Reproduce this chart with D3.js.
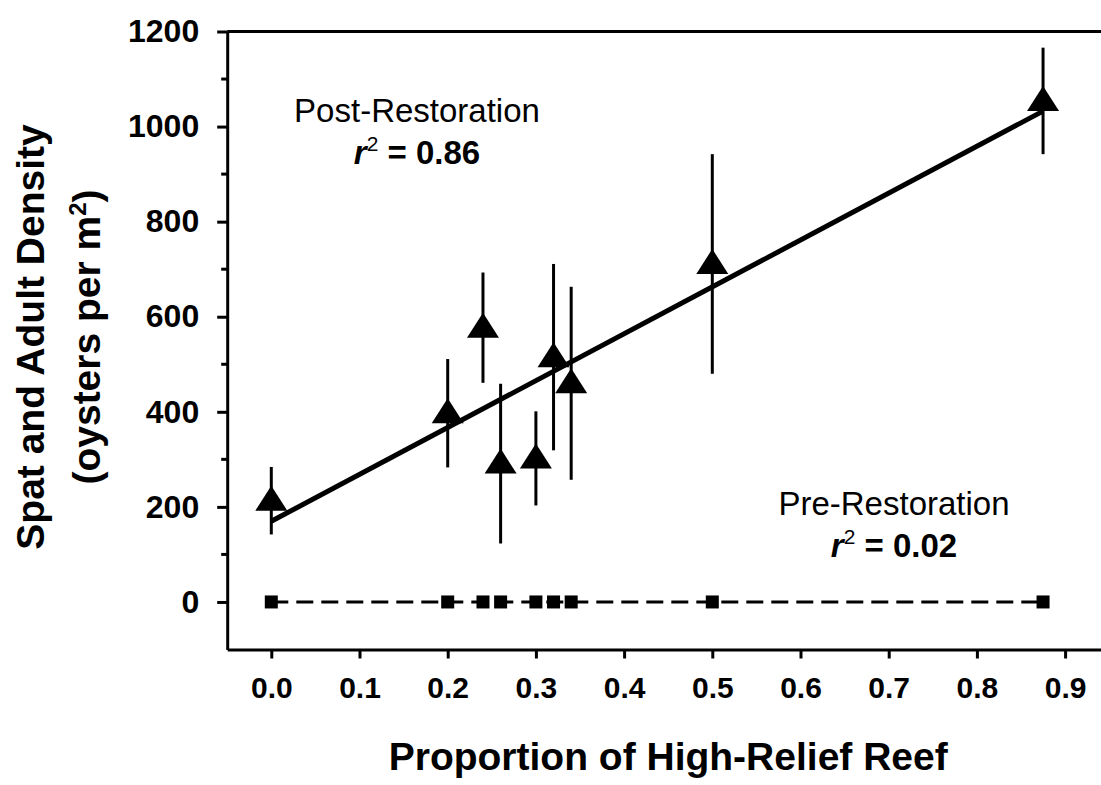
<!DOCTYPE html>
<html>
<head>
<meta charset="utf-8">
<script src="https://cdn.jsdelivr.net/npm/d3@7"></script>
<style>
  body { margin: 0; background: #fff; }
  svg { display: block; font-family: "Liberation Sans", Arial, sans-serif; }
</style>
</head>
<body>
<svg width="1101" height="785"></svg>
<script>
// proportion of high-relief reef for each site
const proportion = [0, 0.2, 0.24, 0.26, 0.30, 0.32, 0.34, 0.5, 0.875];
// post-restoration density (mean and error bar half-length)
const postMean = [213, 397, 577, 291, 302, 515, 460, 711, 1054];
const postErr = [71, 114, 116, 168, 99, 196, 203, 231, 112];
// pre-restoration density
const preMean = [0, 0, 0, 0, 0, 0, 0, 0, 0];

const xTicks = [0, 0.1, 0.2, 0.3, 0.4, 0.5, 0.6, 0.7, 0.8, 0.9];
const yTicks = [0, 200, 400, 600, 800, 1000, 1200];
const yMinor = [100, 300, 500, 700, 900, 1100];

const svg = d3.select("svg"),
  width = +svg.attr("width"),
  height = +svg.attr("height");

const x = d3.scaleLinear().domain([-0.05, 0.95]).range([227.2, 1109.2]);
const y = d3.scaleLinear().domain([-100, 1200]).range([649.5, 31.5]);

const post = proportion.map((p, i) => ({ x: p, y: postMean[i], e: postErr[i] }));
const pre = proportion.map((p, i) => ({ x: p, y: preMean[i] }));

// least squares fit
function fit(data) {
  const mx = d3.mean(data, d => d.x), my = d3.mean(data, d => d.y);
  const sxy = d3.sum(data, d => (d.x - mx) * (d.y - my));
  const sxx = d3.sum(data, d => (d.x - mx) ** 2);
  const b = sxx ? sxy / sxx : 0;
  return v => my + b * (v - mx);
}
const postFit = fit(post), preFit = fit(pre);
const xExt = d3.extent(proportion);

// axes
const yAxis = svg.append("g")
  .attr("transform", `translate(${x(-0.05)},0)`)
  .call(d3.axisLeft(y).tickValues(yTicks).tickFormat(d3.format("d"))
    .tickSize(10).tickSizeOuter(0).tickPadding(18));
yAxis.select(".domain").attr("stroke-width", 3);
yAxis.selectAll(".tick line").attr("stroke-width", 3);
yAxis.selectAll("text")
  .attr("font-size", 32).attr("font-weight", "bold").attr("fill", "#000")
  .attr("font-family", "Liberation Sans, Arial, sans-serif");

svg.append("g")
  .selectAll("line")
  .data(yMinor)
  .join("line")
  .attr("x1", x(-0.05) - 6).attr("x2", x(-0.05))
  .attr("y1", d => y(d)).attr("y2", d => y(d))
  .attr("stroke", "#000").attr("stroke-width", 3);

const xAxis = svg.append("g")
  .attr("transform", `translate(0,${y(-100)})`)
  .call(d3.axisBottom(x).tickValues(xTicks).tickFormat(d3.format(".1f"))
    .tickSize(9).tickSizeOuter(0).tickPadding(18));
xAxis.select(".domain").attr("stroke-width", 3);
xAxis.selectAll(".tick line").attr("stroke-width", 3);
xAxis.selectAll("text")
  .attr("font-size", 30).attr("font-weight", "bold").attr("fill", "#000")
  .attr("font-family", "Liberation Sans, Arial, sans-serif");

// top frame line
svg.append("line")
  .attr("x1", x(-0.05)).attr("x2", x(0.95))
  .attr("y1", y(1200)).attr("y2", y(1200))
  .attr("stroke", "#000").attr("stroke-width", 3);

// axis titles
svg.append("text")
  .attr("x", x(0.45)).attr("y", 770)
  .attr("text-anchor", "middle")
  .attr("font-size", 39).attr("font-weight", "bold")
  .text("Proportion of High-Relief Reef");

const yTitle = svg.append("text")
  .attr("transform", "translate(0,337) rotate(-90)")
  .attr("text-anchor", "middle")
  .attr("font-size", 39).attr("font-weight", "bold");
yTitle.append("tspan").attr("x", 0).attr("y", 44).text("Spat and Adult Density");
const l2 = yTitle.append("tspan").attr("x", 0).attr("y", 100);
l2.append("tspan").text("(oysters per m");
l2.append("tspan").attr("dy", -14).attr("font-size", 24).text("2");
l2.append("tspan").attr("dy", 14).text(")");

// pre-restoration dashed fit line and squares
svg.append("line")
  .attr("x1", x(xExt[0])).attr("x2", x(xExt[1]))
  .attr("y1", y(preFit(xExt[0]))).attr("y2", y(preFit(xExt[1])))
  .attr("stroke", "#000").attr("stroke-width", 3)
  .attr("stroke-dasharray", "17,8");

svg.append("g")
  .selectAll("rect")
  .data(pre)
  .join("rect")
  .attr("x", d => x(d.x) - 6.5).attr("y", d => y(d.y) - 6.5)
  .attr("width", 13).attr("height", 13)
  .attr("fill", "#000");

// post-restoration error bars
svg.append("g")
  .selectAll("line")
  .data(post)
  .join("line")
  .attr("x1", d => x(d.x)).attr("x2", d => x(d.x))
  .attr("y1", d => y(d.y - d.e)).attr("y2", d => y(d.y + d.e))
  .attr("stroke", "#000").attr("stroke-width", 3);

// post-restoration fit
svg.append("line")
  .attr("x1", x(xExt[0])).attr("x2", x(xExt[1]))
  .attr("y1", y(postFit(xExt[0]))).attr("y2", y(postFit(xExt[1])))
  .attr("stroke", "#000").attr("stroke-width", 5);

// triangles
const tri = "M0,-15L16,10L-16,10Z";
svg.append("g")
  .selectAll("path")
  .data(post)
  .join("path")
  .attr("d", tri)
  .attr("transform", d => `translate(${x(d.x)},${y(d.y)})`)
  .attr("fill", "#000");

// annotations
function note(cx, cy, label, r2) {
  svg.append("text")
    .attr("x", cx).attr("y", cy)
    .attr("text-anchor", "middle").attr("font-size", 33)
    .text(label);
  const t = svg.append("text")
    .attr("x", cx).attr("y", cy + 42)
    .attr("text-anchor", "middle").attr("font-size", 33).attr("font-weight", "bold");
  t.append("tspan").attr("font-style", "italic").text("r");
  t.append("tspan").attr("dy", -13).attr("font-size", 21).attr("font-weight", "normal").text("2");
  t.append("tspan").attr("dy", 13).text(" = " + r2);
}
note(417, 122, "Post-Restoration", "0.86");
note(894, 515, "Pre-Restoration", "0.02");
</script>
</body>
</html>
